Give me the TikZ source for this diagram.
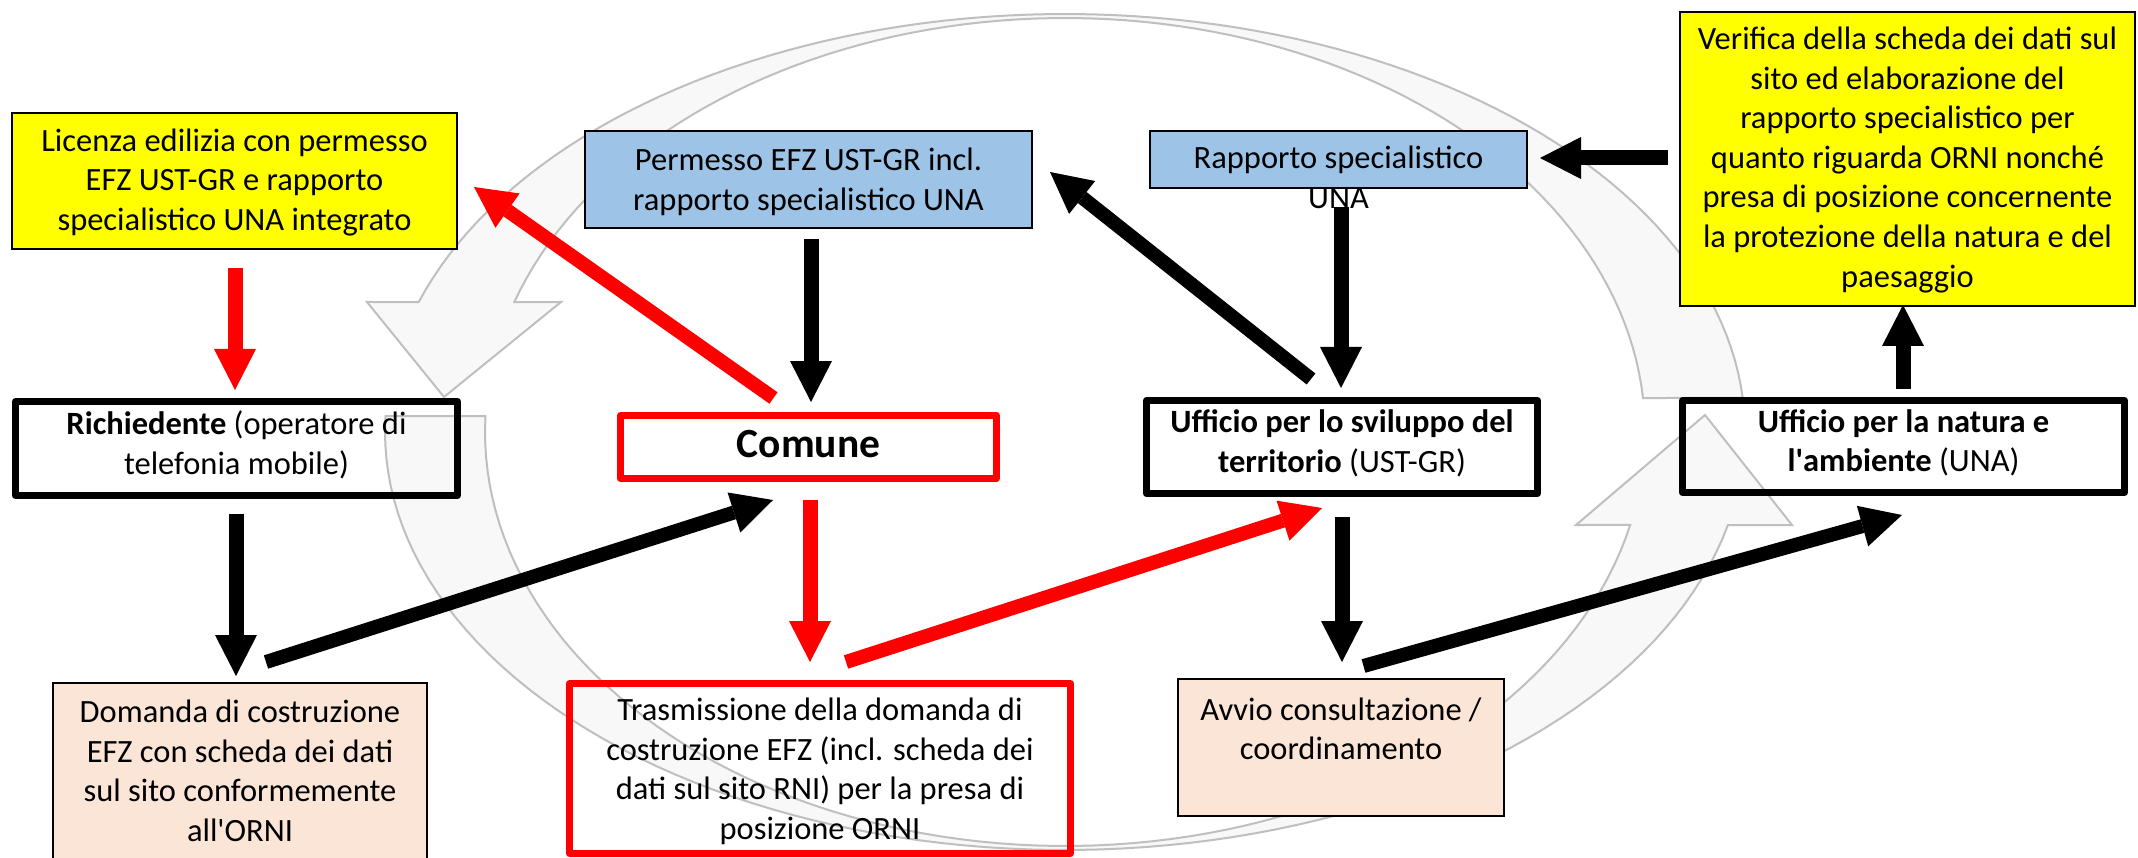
\documentclass[tikz,border=0pt]{standalone}
\usepackage{fontspec}
\setmainfont{Carlito}
\usetikzlibrary{arrows.meta}
\definecolor{yel}{HTML}{FFFF00}
\definecolor{blu}{HTML}{9DC3E6}
\definecolor{peach}{HTML}{FBE5D6}
\definecolor{ringfill}{HTML}{F8F8F8}
\definecolor{ringline}{HTML}{BFBFBF}
\definecolor{redc}{HTML}{FF0000}
\begin{document}
\begin{tikzpicture}[x=1pt,y=-1pt,
  txt/.style={font=\fontsize{32.5}{39.6}\selectfont, align=center, inner sep=0pt,
    execute at end node=\strut},
  thinbox/.style={draw=black, line width=2pt, inner sep=0pt},
  thickbox/.style={draw=black, line width=7pt, line join=round},
  redbox/.style={draw=redc, line width=7pt, line join=round, inner sep=0pt},
  ring/.style={fill=ringfill, draw=ringline, line width=2pt, line join=miter},
  arr/.style={line width=15pt, -{Triangle[length=41pt,width=42pt,line width=0pt]}},
  darr/.style={line width=14pt, -{Triangle[length=41pt,width=42pt,line width=0pt]}},
]
\useasboundingbox (0,0) rectangle (2138,858);
\fill[white] (0,0) rectangle (2138,858);

% background circular arrows
\filldraw[ring]
  plot[domain=-4.67:-161.88, samples=90] ({1065+680*cos(\x)},{432+418*sin(\x)})
  -- (367,302) -- (444,397) -- (561,302)
  -- plot[domain=-161.70:-4.71, samples=90] ({1065+580*cos(\x)},{432+414*sin(\x)})
  -- cycle;
\filldraw[ring]
  plot[domain=182.19:12.86, samples=90] ({1065+680*cos(\x)},{432+418*sin(\x)})
  -- (1792,525) -- (1705,415) -- (1576,525)
  -- plot[domain=12.98:182.21, samples=90] ({1065+580*cos(\x)},{432+414*sin(\x)})
  -- cycle;

% boxes
\node[thinbox, fill=yel, minimum width=445pt, minimum height=136pt] (licenza) at (234.5,181) {};
\node[txt] (licenzatxt) at (234.5,185.5)
  {Licenza edilizia con permesso\\EFZ UST-GR e rapporto\\specialistico UNA integrato};
\node[thinbox, fill=blu, minimum width=447pt, minimum height=97pt] (permesso) at (808.5,179.5) {};
\node[txt] (permessotxt) at (808.5,185)
  {Permesso EFZ UST-GR incl.\\rapporto specialistico UNA};
\node[thinbox, fill=blu, minimum width=377pt, minimum height=57pt] (rapporto) at (1338.5,159.5) {};
\node[txt] (rapportotxt) at (1338.5,183) {Rapporto specialistico\\UNA};
\node[thinbox, fill=yel, minimum width=455pt, minimum height=294pt] (verifica) at (1907.5,159) {};
\node[txt] (verificatxt) at (1907.5,163)
  {Verifica della scheda dei dati sul\\sito ed elaborazione del\\rapporto specialistico per\\quanto riguarda ORNI nonché\\presa di posizione concernente\\la protezione della natura e del\\paesaggio};
\node[txt, thickbox, minimum width=442pt, minimum height=94pt] (richiedente) at (236.5,448.5)
  {\textbf{Richiedente} (operatore di\\telefonia mobile)};
\node[txt, redbox, minimum width=376pt, minimum height=63pt, font=\bfseries\fontsize{41.5}{50}\selectfont] (comune) at (808.5,447)
  {Comune};
\node[txt, thickbox, minimum width=391pt, minimum height=93pt] (ust) at (1342,447)
  {\textbf{Ufficio per lo sviluppo del}\\\textbf{territorio} (UST-GR)};
\node[txt, thickbox, minimum width=442pt, minimum height=92pt] (una) at (1903.5,446.5)
  {\textbf{Ufficio per la natura e}\\\textbf{l\textquotesingle ambiente} (UNA)};
\node[thinbox, fill=peach, minimum width=374pt, minimum height=179pt] (domanda) at (240,772.5) {};
\node[txt] (domandatxt) at (240,776.5)
  {Domanda di costruzione\\EFZ con scheda dei dati\\sul sito conformemente\\all\textquotesingle ORNI};
\node[redbox, minimum width=501pt, minimum height=170pt] (trasm) at (820,768.5) {};
\node[txt] (trasmtxt) at (820,774.5)
  {Trasmissione della domanda di\\costruzione EFZ (incl. scheda dei\\dati sul sito RNI) per la presa di\\posizione ORNI};
\node[thinbox, fill=peach, minimum width=326pt, minimum height=137pt] (avvio) at (1341,747.5) {};
\node[txt] (avviotxt) at (1341,734.5) {Avvio consultazione /\\coordinamento};

% connector end points
\coordinate (a1s) at (235,268);     \coordinate (a1e) at (235,390);
\coordinate (a2s) at (236,514);     \coordinate (a2e) at (236,676);
\coordinate (a3s) at (266,662);     \coordinate (a3e) at (773,500);
\coordinate (a4s) at (811,239);     \coordinate (a4e) at (811,402);
\coordinate (a5s) at (773.5,398);   \coordinate (a5e) at (474,187);
\coordinate (a6s) at (810,500);     \coordinate (a6e) at (810,662);
\coordinate (a7s) at (846,662);     \coordinate (a7e) at (1322,508);
\coordinate (a8s) at (1311,379);    \coordinate (a8e) at (1050,172);
\coordinate (a9s) at (1341,207);    \coordinate (a9e) at (1341,388);
\coordinate (a10s) at (1668,158);   \coordinate (a10e) at (1540,158);
\coordinate (a11s) at (1342,517);   \coordinate (a11e) at (1342,662);
\coordinate (a12s) at (1363.5,666); \coordinate (a12e) at (1902,515);
\coordinate (a13s) at (1903,389);   \coordinate (a13e) at (1903,305);

% connectors
\draw[arr, redc] (a1s) -- (a1e);
\draw[arr] (a2s) -- (a2e);
\draw[darr] (a3s) -- (a3e);
\draw[arr] (a4s) -- (a4e);
\draw[darr, redc] (a5s) -- (a5e);
\draw[arr, redc] (a6s) -- (a6e);
\draw[darr, redc] (a7s) -- (a7e);
\draw[darr] (a8s) -- (a8e);
\draw[arr] (a9s) -- (a9e);
\draw[arr] (a10s) -- (a10e);
\draw[arr] (a11s) -- (a11e);
\draw[darr] (a12s) -- (a12e);
\draw[arr] (a13s) -- (a13e);
\end{tikzpicture}
\end{document}
